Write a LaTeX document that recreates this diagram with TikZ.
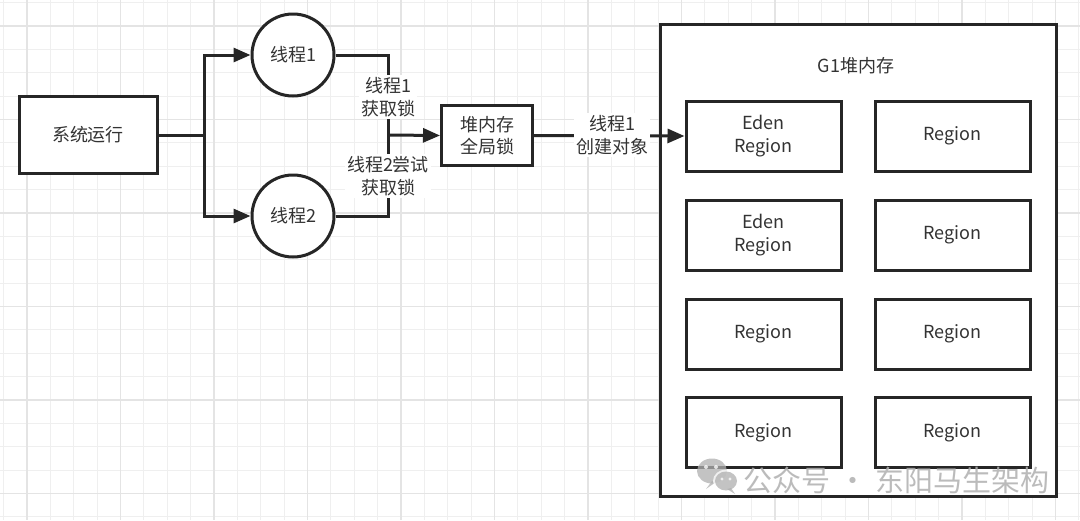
\documentclass[tikz,border=0pt]{standalone}
\usepackage{fontspec}
\setmainfont{Noto Sans CJK SC}
\usetikzlibrary{arrows.meta,calc}
\definecolor{ink}{HTML}{262626}
\definecolor{txt}{HTML}{333333}
\definecolor{gridminor}{HTML}{EFEFEF}
\definecolor{gridmajor}{HTML}{E4E4E4}
\definecolor{wm}{HTML}{B0B0B0}
\tikzset{
  base/.style={font=\fontsize{18}{22.5}\selectfont, text=txt, align=center},
  box/.style={base, draw=ink, line width=3pt, fill=white, inner sep=0pt},
  circ/.style={base, draw=ink, line width=3pt, fill=white, circle, minimum size=82pt, inner sep=0pt},
  region/.style={box, minimum width=155pt, minimum height=70pt},
  lbl/.style={base, fill=white, inner sep=2pt},
  conn/.style={draw=ink, line width=3pt},
  arr/.style={conn, -{Triangle[length=17pt,width=14pt]}}
}
\begin{document}
\begin{tikzpicture}[x=1pt,y=-1pt]
\useasboundingbox (0,0) rectangle (1080,520);
\fill[white] (0,0) rectangle (1080,520);
% grid
\foreach \i in {-1,...,45} {
  \pgfmathsetmacro\xx{27+\i*23.375}
  \draw[gridminor, line width=1.2pt] (\xx,0) -- (\xx,520);
}
\foreach \i in {-1,...,21} {
  \pgfmathsetmacro\yy{26+\i*23.375}
  \draw[gridminor, line width=1.2pt] (0,\yy) -- (1080,\yy);
}
\foreach \i in {0,...,11} {
  \pgfmathsetmacro\xx{27+\i*93.5}
  \draw[gridmajor, line width=1.6pt] (\xx,0) -- (\xx,520);
}
\foreach \i in {0,...,5} {
  \pgfmathsetmacro\yy{26+\i*93.5}
  \draw[gridmajor, line width=1.6pt] (0,\yy) -- (1080,\yy);
}

% nodes
\node[box, minimum width=138pt, minimum height=77pt] (sys) at (88,135) {系统运行};
\node[circ] (t1) at (293,55) {线程1};
\node[circ] (t2) at (293,216) {线程2};
\node[box, minimum width=91pt, minimum height=60pt] (lock) at (487,135.5) {堆内存\\全局锁};

% G1 container
\node[draw=ink, line width=2.6pt, fill=white, minimum width=396pt, minimum height=472pt, inner sep=0pt] (g1) at (858.5,260.5) {};
\node[base] (g1t) at (856,66) {G1堆内存};

\node[region] (r11) at (763.5,136) {Eden\\Region};
\node[region] (r12) at (952.5,136) {Region};
\node[region] (r21) at (763.5,235) {Eden\\Region};
\node[region] (r22) at (952.5,235) {Region};
\node[region] (r31) at (763.5,334) {Region};
\node[region] (r32) at (952.5,334) {Region};
\node[region] (r41) at (763.5,432.5) {Region};
\node[region] (r42) at (952.5,432.5) {Region};

% connectors
\coordinate (fork) at (204,135);
\coordinate (join) at (388,135);
\draw[conn] (sys.east) -- (fork);
\draw[arr] (fork) |- (t1.west);
\draw[arr] (fork) |- (t2.west);
\draw[conn] (t1.east) -| (join);
\draw[conn] (t2.east) -| (join);
\draw[arr] (join) -- (lock.west);
\draw[arr] (lock.east) -- (r11.west);

% labels
\node[lbl] (l1) at (388,97) {线程1\\获取锁};
\node[lbl] (l2) at (388,176) {线程2尝试\\获取锁};
\node[lbl] (l3) at (612,135) {线程1\\创建对象};

% watermark
\begin{scope}[opacity=0.75]
\fill[wm] (712,471) ellipse (15pt and 12.5pt);
\fill[wm] (712,481) -- (706,489) -- (716,482) -- cycle;
\fill[white] (726,481) ellipse (13pt and 11.5pt);
\fill[wm] (726,481) ellipse (11pt and 9.5pt);
\fill[wm] (731,488) -- (735,494) -- (727,489) -- cycle;
\fill[white] (706,467) circle (2pt);
\fill[white] (716,467) circle (2pt);
\fill[white] (722,479) circle (1.6pt);
\fill[white] (730,479) circle (1.6pt);
\end{scope}
\node[font=\fontsize{29}{30}\selectfont, text=wm, opacity=0.85, anchor=west, inner sep=0pt] (wmt) at (743,480) {公众号\hspace{8pt}·\hspace{8pt}东阳马生架构};
\end{tikzpicture}
\end{document}
